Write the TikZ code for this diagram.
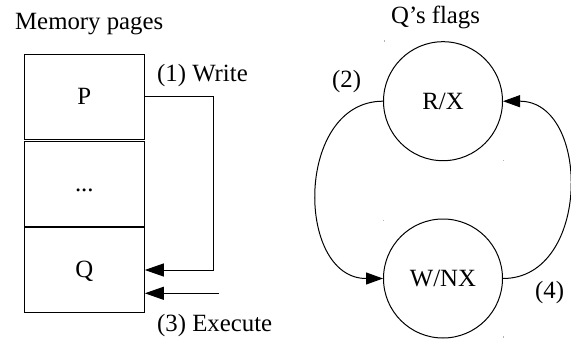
\documentclass[tikz,border=0pt]{standalone}
\usepackage{fontspec}
\setmainfont{Liberation Serif}
\usetikzlibrary{arrows.meta}
\begin{document}
\begin{tikzpicture}[x=1pt,y=-1pt,
  every node/.style={font=\fontsize{24.8}{30}\selectfont},
  page/.style={draw, line width=1pt, minimum width=120pt, minimum height=85pt, inner sep=0pt, text height=17pt, text depth=2pt},
  state/.style={draw, circle, line width=1pt, minimum size=119pt, inner sep=0pt, text height=17pt, text depth=1pt},
  lbl/.style={anchor=base west, inner sep=0pt},
  arr/.style={line width=1pt, -{Triangle[length=19pt,width=13pt]}},
  curvearr/.style={line width=1pt, -{Triangle[length=17pt,width=12pt]}},
  speck/.style={fill=gray!60, draw=none}
]
\useasboundingbox (0,0) rectangle (571,340);
% titles
\node[lbl] (mem) at (15,29.3) {Memory pages};
\node[lbl] (qf) at (391,23.5) {Q’s flags};
% memory pages
\node[page] (P) at (84.3,96.8) {P};
\node[page] (D) at (84.3,183.5) {...};
\node[page] (Q) at (84.3,270) {Q};
% write / execute
\node[lbl] (w) at (157,81.7) {(1) Write};
\node[lbl] (e) at (157,331.5) {(3) Execute};
\coordinate (wc) at (213.7,270);
\draw[arr] (P.east) -| (wc) -- (Q.east);
\coordinate (ex) at (219,293.3);
\draw[arr] (ex) -- (Q.east |- ex);
% flags
\node[state] (RX) at (443,101.2) {R/X};
\node[state] (WN) at (443,278.5) {W/NX};
\draw[curvearr] (RX.west) .. controls +(-88,0) and +(-88,0) .. (WN.west);
\draw[curvearr] (WN.east) .. controls +(88,0) and +(88,0) .. (RX.east);
\node[lbl] (two) at (332,87.3) {(2)};
\node[lbl] (four) at (535,298.6) {(4)};
% tiny specks
\fill[speck] (383.6,40.4) rectangle (385,41.8);
\fill[speck] (502.6,159.6) rectangle (504,161);
\fill[speck] (382.6,219.6) rectangle (384,221);
\fill[speck] (502.6,336.2) rectangle (504,337.6);
\end{tikzpicture}
\end{document}
